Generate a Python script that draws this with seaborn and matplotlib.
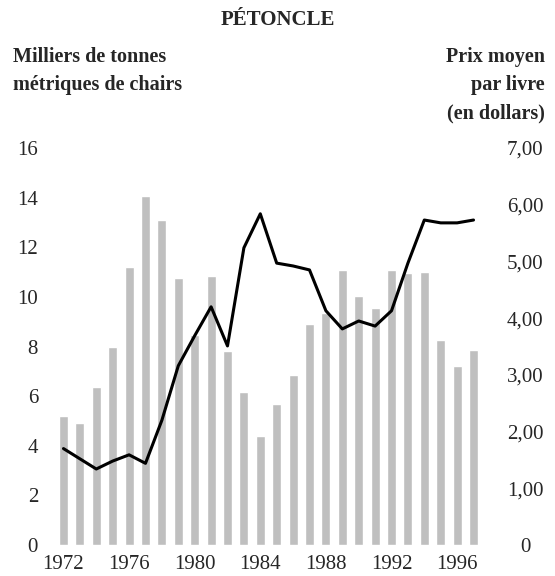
import matplotlib
matplotlib.use("Agg")
import matplotlib.pyplot as plt
import seaborn as sns
import pandas as pd

years = list(range(1972, 1998))
tonnes = [5.2, 4.9, 6.35, 8.0, 11.2, 14.05, 13.1, 10.75, 8.45, 10.85, 7.8, 6.15, 4.4,
          5.7, 6.85, 8.9, 9.35, 11.1, 10.05, 9.55, 11.1, 10.95, 11.0, 8.25, 7.2, 7.85]
prix = [1.7, 1.52, 1.34, 1.48, 1.59, 1.44, 2.2, 3.16, 3.69, 4.2, 3.51, 5.24, 5.84,
        4.97, 4.92, 4.85, 4.13, 3.81, 3.95, 3.86, 4.13, 4.97, 5.73, 5.68, 5.68, 5.73]
left_ticks = [0, 2, 4, 6, 8, 10, 12, 14, 16]
right_ticks = [0, 1, 2, 3, 4, 5, 6, 7]
right_labels = ["0", "1,00", "2,00", "3,00", "4,00", "5,00", "6,00", "7,00"]
year_ticks = [1972, 1976, 1980, 1984, 1988, 1992, 1996]

df = pd.DataFrame({"annee": years, "tonnes": tonnes, "prix": prix})

sns.set_style("white")
plt.rcParams['font.family'] = ['Liberation Serif', 'DejaVu Serif']

fig = plt.figure(figsize=(5.55, 5.76), dpi=100)
ax = fig.add_axes([52 / 555, 31 / 576, 433 / 555, 397 / 576])

sns.barplot(data=df, x="annee", y="tonnes", native_scale=True, color="#bfbfbf",
            saturation=1, width=0.55, ax=ax)
ax.set_xlim(1971.3, 1997.7)
ax.set_ylim(0, 16)
ax.set_yticks(left_ticks)
ax.set_xticks(year_ticks)
ax.set_xticklabels([str(y) for y in year_ticks])
ax.tick_params(axis="both", labelsize=15, length=0)
ax.tick_params(axis="y", pad=10)
ax.tick_params(axis="x", pad=7)
ax.set_xlabel("")
ax.set_ylabel("")
for s in ax.spines.values():
    s.set_visible(False)

ax2 = ax.twinx()
sns.lineplot(data=df, x="annee", y="prix", color="black", linewidth=2.2, ax=ax2)
ax2.set_ylim(0, 7)
ax2.set_yticks(right_ticks)
ax2.set_yticklabels(right_labels)
ax2.tick_params(axis="y", labelsize=15, length=0, pad=29)
for lbl in ax2.get_yticklabels():
    lbl.set_horizontalalignment("center")
ax2.set_xlabel("")
ax2.set_ylabel("")
for s in ax2.spines.values():
    s.set_visible(False)

fig.text(0.5, 1 - 20 / 576, "PÉTONCLE", ha="center", va="center",
         fontsize=15, fontweight="bold")
fig.text(13 / 555, 1 - 47 / 576, "Milliers de tonnes\nmétriques de chairs",
         ha="left", va="top", fontsize=14.5, fontweight="bold", linespacing=1.55)
fig.text(545 / 555, 1 - 47 / 576, "Prix moyen\npar livre\n(en dollars)",
         ha="right", va="top", fontsize=14.5, fontweight="bold", linespacing=1.55)

fig.savefig("out.png", dpi=100)
